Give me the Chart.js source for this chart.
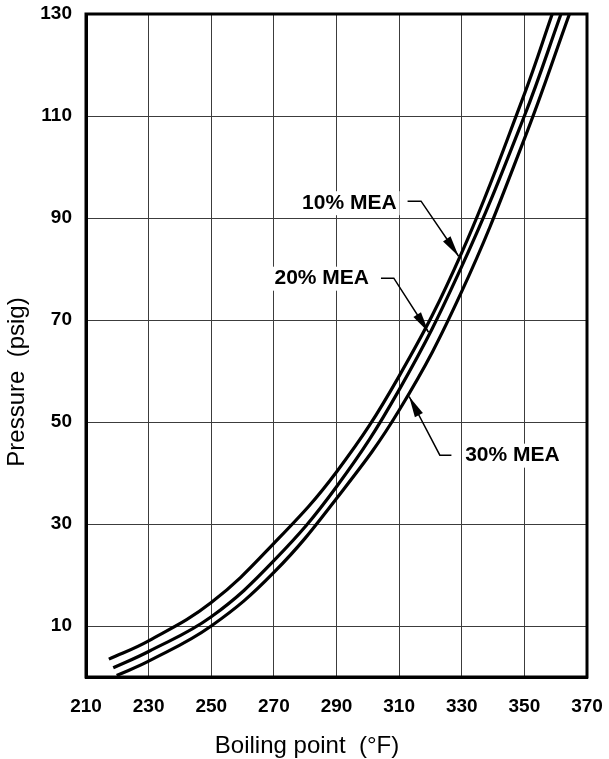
<!DOCTYPE html>
<html>
<head>
<meta charset="utf-8">
<script src="https://cdn.jsdelivr.net/npm/chart.js@4"></script>
<style>
  html, body { margin: 0; padding: 0; background: #fff; }
  canvas { display: block; }
</style>
</head>
<body>
<canvas id="chart" width="609" height="759"></canvas>
<script>
// Boiling point of MEA solutions vs pressure
var xTicks = [210, 230, 250, 270, 290, 310, 330, 350, 370];
var yTicks = [10, 30, 50, 70, 90, 110, 130];

// boiling point (F) / pressure (psig) pairs, mostly taken on the grid lines
var mea10Temp = [217.3, 230, 250, 270, 290, 310, 330, 350, 358.9];
var mea10Psig = [3.5, 7.1, 14.6, 26.2, 40.2, 59.0, 83.2, 114.3, 130];

var mea20Temp = [218.7, 230, 250, 270, 290, 310, 330, 350, 361.7];
var mea20Psig = [1.8, 5.0, 11.8, 22.8, 37.3, 56.3, 80.5, 110, 130];

var mea30Temp = [219.8, 230, 250, 270, 290, 310, 330, 350, 364.4];
var mea30Psig = [0.3, 3.1, 10.0, 20.5, 35.0, 52.3, 75.6, 105.5, 130];

var xTitle = 'Boiling point  (°F)';
var yTitle = 'Pressure  (psig)';

function toPoints(xs, ys) {
  return xs.map(function (x, i) { return { x: x, y: ys[i] }; });
}

var FONT = "'Liberation Sans', Arial, sans-serif";

// callouts: label anchor, elbow of the leader and arrow tip, all in data units
var callouts = [
  { text: '10% MEA', label: [279.0, 92.9], start: [312.7, 93.3], elbow: [317.0, 93.3], tip: [329.0, 82.5] },
  { text: '20% MEA', label: [270.2, 78.1], start: [304.2, 78.2], elbow: [308.3, 78.2], tip: [319.4, 67.6] },
  { text: '30% MEA', label: [331.1, 43.4], start: [326.7, 43.5], elbow: [323.0, 43.5], tip: [313.2, 55.0] }
];

var calloutPlugin = {
  id: 'callouts',
  afterDatasetsDraw: function (chart) {
    var ctx = chart.ctx;
    var xs = chart.scales.x, ys = chart.scales.y;
    function px(p) { return [xs.getPixelForValue(p[0]), ys.getPixelForValue(p[1])]; }
    ctx.save();
    callouts.forEach(function (c) {
      var l = px(c.label), s = px(c.start), e = px(c.elbow), t = px(c.tip);
      ctx.font = 'bold 21px ' + FONT;
      ctx.textAlign = 'left';
      ctx.textBaseline = 'middle';
      ctx.fillStyle = '#fff';
      var w = ctx.measureText(c.text).width;
      ctx.fillRect(l[0] - 3, l[1] - 12, w + 6, 24);
      ctx.fillStyle = '#000';
      ctx.fillText(c.text, l[0], l[1]);

      // leader line
      ctx.strokeStyle = '#000';
      ctx.lineWidth = 1.5;
      ctx.beginPath();
      ctx.moveTo(s[0], s[1]);
      ctx.lineTo(e[0], e[1]);
      ctx.lineTo(t[0], t[1]);
      ctx.stroke();

      // arrow head
      var ang = Math.atan2(t[1] - e[1], t[0] - e[0]);
      var len = 21, half = 4.5;
      var bx = t[0] - len * Math.cos(ang), by = t[1] - len * Math.sin(ang);
      ctx.beginPath();
      ctx.moveTo(t[0], t[1]);
      ctx.lineTo(bx + half * Math.sin(ang), by - half * Math.cos(ang));
      ctx.lineTo(bx - half * Math.sin(ang), by + half * Math.cos(ang));
      ctx.closePath();
      ctx.fillStyle = '#000';
      ctx.fill();
    });
    ctx.restore();
  },
  afterDraw: function (chart) {
    var a = chart.chartArea, ctx = chart.ctx;
    ctx.save();
    // heavy frame round the plot
    ctx.strokeStyle = '#000';
    ctx.lineWidth = 3;
    ctx.strokeRect(a.left, a.top, a.right - a.left, a.bottom - a.top);

    // axis titles
    ctx.fillStyle = '#000';
    ctx.font = '24px ' + FONT;
    ctx.textAlign = 'center';
    ctx.textBaseline = 'middle';
    ctx.fillText(xTitle, 307, 746);
    ctx.translate(17, 382);
    ctx.rotate(-Math.PI / 2);
    ctx.fillText(yTitle, 0, 0);
    ctx.restore();
  }
};

function curve(label, xs, ys) {
  return {
    label: label,
    data: toPoints(xs, ys),
    showLine: true,
    borderColor: '#000',
    borderWidth: 3.2,
    pointRadius: 0,
    tension: 0.4,
    fill: false
  };
}

function noEdgePadding(s) {
  s.paddingTop = 0;
  s.paddingBottom = 0;
  s.paddingLeft = 0;
  s.paddingRight = 0;
}

new Chart(document.getElementById('chart').getContext('2d'), {
  type: 'scatter',
  data: {
    datasets: [
      curve('10% MEA', mea10Temp, mea10Psig),
      curve('20% MEA', mea20Temp, mea20Psig),
      curve('30% MEA', mea30Temp, mea30Psig)
    ]
  },
  options: {
    responsive: false,
    animation: false,
    layout: { padding: { top: 14, right: 22, left: 0, bottom: 0 } },
    plugins: { legend: { display: false }, tooltip: { enabled: false } },
    scales: {
      x: {
        type: 'linear',
        min: 210,
        max: 370,
        afterBuildTicks: function (s) { s.ticks = xTicks.map(function (v) { return { value: v }; }); },
        afterFit: function (s) { s.height = 82; noEdgePadding(s); },
        grid: { color: '#3c3c3c', lineWidth: 1, drawTicks: false },
        border: { color: '#000', width: 3 },
        ticks: {
          autoSkip: false,
          maxRotation: 0,
          padding: 18,
          color: '#000',
          font: { family: FONT, size: 19, weight: 'bold' }
        }
      },
      y: {
        type: 'linear',
        min: 0,
        max: 130,
        afterBuildTicks: function (s) { s.ticks = yTicks.map(function (v) { return { value: v }; }); },
        afterFit: function (s) { s.width = 86; noEdgePadding(s); },
        grid: { color: '#3c3c3c', lineWidth: 1, drawTicks: false },
        border: { color: '#000', width: 3 },
        ticks: {
          autoSkip: false,
          padding: 14,
          color: '#000',
          font: { family: FONT, size: 19, weight: 'bold' }
        }
      }
    }
  },
  plugins: [calloutPlugin]
});
</script>
</body>
</html>
